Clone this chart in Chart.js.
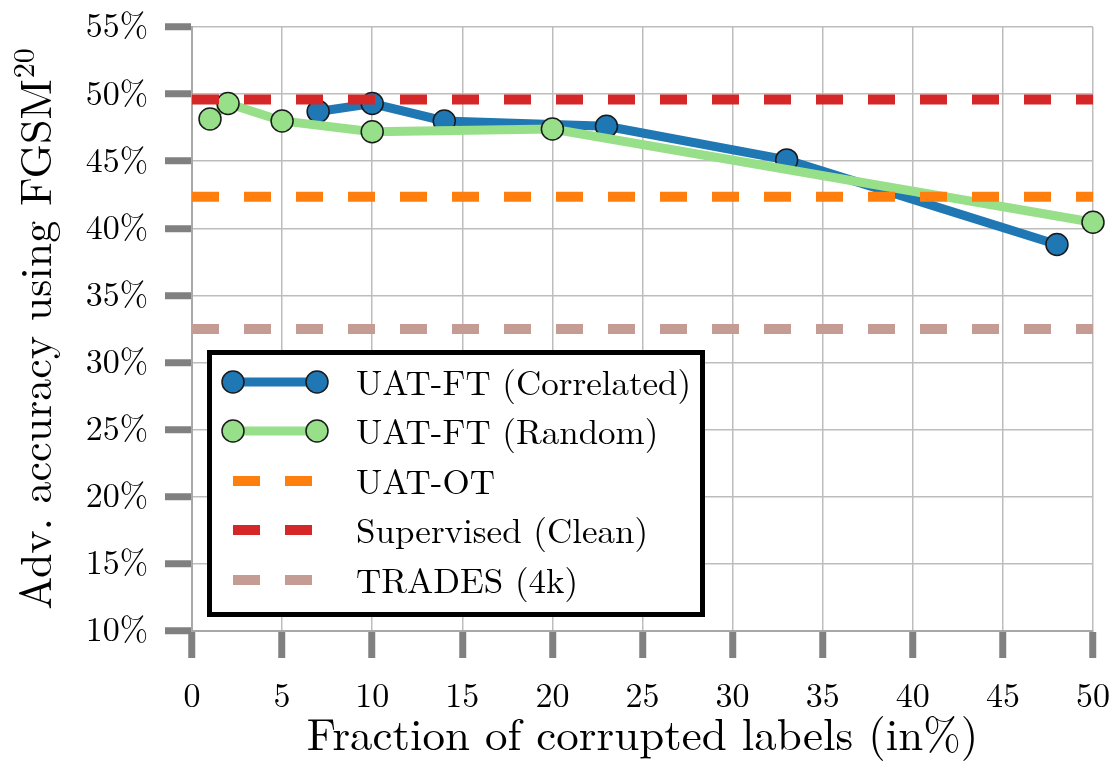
<!DOCTYPE html>
<html>
<head>
<meta charset="utf-8">
<script src="https://cdn.jsdelivr.net/npm/chart.js@4.4.1/dist/chart.umd.min.js"></script>
<style>
  html, body { margin: 0; padding: 0; background: #fff; }
  #wrap { width: 1117px; height: 767px; }
</style>
</head>
<body>
<div id="wrap"><canvas id="c" width="1117" height="767"></canvas></div>
<script>
// ---- data ----
const correlatedX = [7, 10, 14, 23, 33, 48];
const correlatedY = [48.7, 49.3, 48.0, 47.6, 45.1, 38.8];
const randomX = [1, 2, 5, 10, 20, 50];
const randomY = [48.15, 49.3, 48.0, 47.2, 47.4, 40.45];
const uatOT = 42.35;
const supervisedClean = 49.6;
const trades4k = 32.5;
const xRange = [0, 50];
const yTicks = [10, 15, 20, 25, 30, 35, 40, 45, 50, 55];
const xTicks = [0, 5, 10, 15, 20, 25, 30, 35, 40, 45, 50];
const seriesLabels = ['UAT-FT (Correlated)', 'UAT-FT (Random)', 'UAT-OT', 'Supervised (Clean)', 'TRADES (4k)'];
const xTitle = 'Fraction of corrupted labels (in%)';
const yTitleMain = 'Adv. accuracy using FGSM';
const yTitleSup = '20';

const FONT = "'Latin Modern Roman', 'Liberation Serif', serif";
const TEXT = '#000000';
const toXY = (xs, ys) => xs.map((x, i) => ({x: x, y: ys[i]}));
const hline = v => xRange.map(x => ({x: x, y: v}));

const DASH = [27, 25];
const datasets = [
  {label: seriesLabels[0], data: toXY(correlatedX, correlatedY), borderColor: '#1f77b4', backgroundColor: '#1f77b4',
   borderWidth: 9, pointRadius: 11, pointBorderWidth: 1.5, pointBorderColor: '#1a1a1a', pointBackgroundColor: '#1f77b4', order: 5},
  {label: seriesLabels[1], data: toXY(randomX, randomY), borderColor: '#98df8a', backgroundColor: '#98df8a',
   borderWidth: 9, pointRadius: 11, pointBorderWidth: 1.5, pointBorderColor: '#1a1a1a', pointBackgroundColor: '#98df8a', order: 4},
  {label: seriesLabels[2], data: hline(uatOT), borderColor: '#ff7f0e', backgroundColor: '#ff7f0e',
   borderWidth: 10, borderDash: DASH, pointRadius: 0, order: 3},
  {label: seriesLabels[3], data: hline(supervisedClean), borderColor: '#d62728', backgroundColor: '#d62728',
   borderWidth: 10, borderDash: DASH, pointRadius: 0, order: 2},
  {label: seriesLabels[4], data: hline(trades4k), borderColor: '#c49c94', backgroundColor: '#c49c94',
   borderWidth: 10, borderDash: DASH, pointRadius: 0, order: 1}
];
datasets.forEach(d => { d.tension = 0; d.clip = false; d.borderCapStyle = 'butt'; d.fill = false; });

const extras = {
  id: 'extras',
  afterDraw(chart) {
    const ctx = chart.ctx;
    const area = chart.chartArea;
    ctx.save();
    // y-axis title with superscript
    ctx.save();
    ctx.fillStyle = TEXT;
    ctx.textBaseline = 'alphabetic';
    ctx.textAlign = 'left';
    ctx.font = '44px ' + FONT;
    const wMain = ctx.measureText(yTitleMain).width;
    ctx.font = '30px ' + FONT;
    const wSup = ctx.measureText(yTitleSup).width;
    const total = wMain + wSup + 1;
    const cy = (area.top + area.bottom) / 2;
    ctx.translate(51, cy + total / 2);
    ctx.rotate(-Math.PI / 2);
    ctx.font = '44px ' + FONT;
    ctx.fillText(yTitleMain, 0, 0);
    ctx.font = '30px ' + FONT;
    ctx.fillText(yTitleSup, wMain + 1, -17);
    ctx.restore();

    // legend frame
    ctx.fillStyle = '#ffffff';
    ctx.fillRect(210, 353, 493, 262);
    ctx.strokeStyle = '#000000';
    ctx.lineWidth = 5;
    ctx.strokeRect(209.5, 352.5, 493, 262);
    const rowY = [382, 431, 481, 530, 580];
    chart.data.datasets.forEach((ds, i) => {
      const y = rowY[i];
      ctx.save();
      ctx.strokeStyle = ds.borderColor;
      ctx.lineCap = 'butt';
      if (ds.pointRadius > 0) {
        ctx.lineWidth = ds.borderWidth;
        ctx.setLineDash([]);
        ctx.beginPath(); ctx.moveTo(233, y); ctx.lineTo(317, y); ctx.stroke();
        [233, 317].forEach(px => {
          ctx.beginPath(); ctx.arc(px, y, ds.pointRadius, 0, Math.PI * 2);
          ctx.fillStyle = ds.pointBackgroundColor; ctx.fill();
          ctx.lineWidth = ds.pointBorderWidth; ctx.strokeStyle = ds.pointBorderColor; ctx.stroke();
        });
      } else {
        ctx.lineWidth = ds.borderWidth;
        ctx.setLineDash(ds.borderDash);
        ctx.beginPath(); ctx.moveTo(233, y); ctx.lineTo(313, y); ctx.stroke();
      }
      ctx.restore();
      ctx.fillStyle = TEXT;
      ctx.font = '35px ' + FONT;
      ctx.textBaseline = 'alphabetic';
      ctx.textAlign = 'left';
      ctx.fillText(ds.label, 356, y + 13);
    });
    ctx.restore();
  }
};

new Chart(document.getElementById('c'), {
  type: 'line',
  data: {datasets: datasets},
  options: {
    responsive: false,
    animation: false,
    devicePixelRatio: 1,
    layout: {padding: {top: 27, right: 24, left: 0, bottom: 0}},
    plugins: {legend: {display: false}, tooltip: {enabled: false}},
    scales: {
      x: {
        type: 'linear', min: xRange[0], max: xRange[1],
        afterBuildTicks: s => { s.ticks = xTicks.map(v => ({value: v})); },
        afterFit: s => { s.height = 136; s.paddingLeft = 0; s.paddingRight = 0; },
        grid: {color: '#bdbdbd', lineWidth: 1.5, tickColor: '#808080', tickWidth: 7, tickLength: 27},
        border: {color: '#a8a8a8', width: 2},
        ticks: {color: TEXT, font: {family: FONT, size: 34}, padding: 18, maxRotation: 0},
        title: {display: true, text: xTitle, color: TEXT, font: {family: FONT, size: 45}, padding: {top: 0, bottom: 4}}
      },
      y: {
        type: 'linear', min: 10, max: 55,
        afterBuildTicks: s => { s.ticks = yTicks.map(v => ({value: v})); },
        afterFit: s => { s.width = 192; s.paddingTop = 0; s.paddingBottom = 0; },
        grid: {color: '#bdbdbd', lineWidth: 1.5, tickColor: '#808080', tickWidth: 7, tickLength: 27},
        border: {color: '#a8a8a8', width: 2},
        ticks: {color: TEXT, font: {family: FONT, size: 34}, padding: 17, callback: v => v + '%'},
        title: {display: false}
      }
    }
  },
  plugins: [extras]
});
</script>
</body>
</html>
